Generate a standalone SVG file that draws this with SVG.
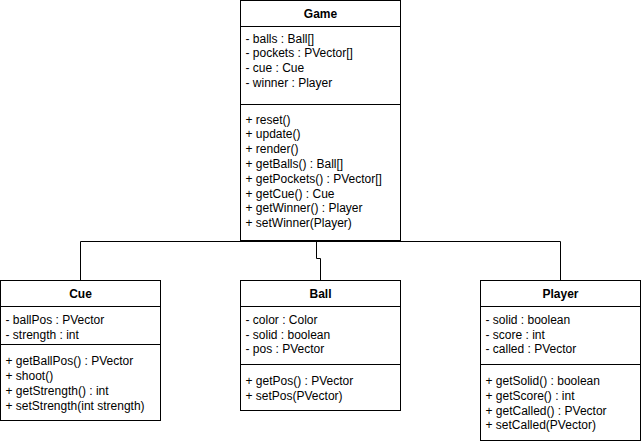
<svg xmlns="http://www.w3.org/2000/svg" width="641" height="444" viewBox="0 0 641 444">
<style>
.box{fill:#fff;stroke:#000;stroke-width:1}
.sep{stroke:#000;stroke-width:1;fill:none}
.t{font-family:"Liberation Sans",Helvetica,Arial,sans-serif;font-size:12px;fill:#000}
.h{font-family:"Liberation Sans",Helvetica,Arial,sans-serif;font-size:12px;font-weight:bold;fill:#000;text-anchor:middle}
.c{stroke:#000;stroke-width:1;fill:none}
</style>
<rect width="641" height="444" fill="#fff"/>
<g id="connectors">
<path class="c" d="M316.5,240.5 V241.5 H80.5 V280.5"/>
<path class="c" d="M316.5,240.5 V241.5 H560.5 V280.5"/>
<path class="c" d="M316.5,240.5 V258.5 H320.5 V280.5"/>
</g>
<g id="Game">
<rect class="box" x="240.5" y="0.5" width="160" height="240"/>
<line class="sep" x1="240.5" y1="26.5" x2="400.5" y2="26.5"/>
<line class="sep" x1="240.5" y1="104.5" x2="400.5" y2="104.5"/>
<text class="h" x="320.5" y="18">Game</text>
<text class="t" x="245.5" y="42.5">- balls : Ball[]</text>
<text class="t" x="245.5" y="57.3">- pockets : PVector[]</text>
<text class="t" x="245.5" y="72.1">- cue : Cue</text>
<text class="t" x="245.5" y="86.9">- winner : Player</text>
<text class="t" x="245.5" y="123.5">+ reset()</text>
<text class="t" x="245.5" y="138.3">+ update()</text>
<text class="t" x="245.5" y="153.1">+ render()</text>
<text class="t" x="245.5" y="167.9">+ getBalls() : Ball[]</text>
<text class="t" x="245.5" y="182.7">+ getPockets() : PVector[]</text>
<text class="t" x="245.5" y="197.5">+ getCue() : Cue</text>
<text class="t" x="245.5" y="212.3">+ getWinner() : Player</text>
<text class="t" x="245.5" y="227.1">+ setWinner(Player)</text>
</g>
<g id="Cue">
<rect class="box" x="0.5" y="280.5" width="160" height="140"/>
<line class="sep" x1="0.5" y1="306.5" x2="160.5" y2="306.5"/>
<line class="sep" x1="0.5" y1="344.5" x2="160.5" y2="344.5"/>
<text class="h" x="80.5" y="298">Cue</text>
<text class="t" x="5.5" y="324.3">- ballPos : PVector</text>
<text class="t" x="5.5" y="338.8">- strength : int</text>
<text class="t" x="5.5" y="365.2">+ getBallPos() : PVector</text>
<text class="t" x="5.5" y="380">+ shoot()</text>
<text class="t" x="5.5" y="394.8">+ getStrength() : int</text>
<text class="t" x="5.5" y="409.6">+ setStrength(int strength)</text>
</g>
<g id="Ball">
<rect class="box" x="240.5" y="280.5" width="160" height="130"/>
<line class="sep" x1="240.5" y1="306.5" x2="400.5" y2="306.5"/>
<line class="sep" x1="240.5" y1="364.5" x2="400.5" y2="364.5"/>
<text class="h" x="320.5" y="298">Ball</text>
<text class="t" x="245.5" y="324.3">- color : Color</text>
<text class="t" x="245.5" y="338.8">- solid : boolean</text>
<text class="t" x="245.5" y="353.3">- pos : PVector</text>
<text class="t" x="245.5" y="385">+ getPos() : PVector</text>
<text class="t" x="245.5" y="399.8">+ setPos(PVector)</text>
</g>
<g id="Player">
<rect class="box" x="480.5" y="280.5" width="160" height="160"/>
<line class="sep" x1="480.5" y1="306.5" x2="640.5" y2="306.5"/>
<line class="sep" x1="480.5" y1="364.5" x2="640.5" y2="364.5"/>
<text class="h" x="560.5" y="298">Player</text>
<text class="t" x="485.5" y="324.3">- solid : boolean</text>
<text class="t" x="485.5" y="338.8">- score : int</text>
<text class="t" x="485.5" y="353.3">- called : PVector</text>
<text class="t" x="485.5" y="385">+ getSolid() : boolean</text>
<text class="t" x="485.5" y="399.8">+ getScore() : int</text>
<text class="t" x="485.5" y="414.6">+ getCalled() : PVector</text>
<text class="t" x="485.5" y="429.4">+ setCalled(PVector)</text>
</g>
</svg>
